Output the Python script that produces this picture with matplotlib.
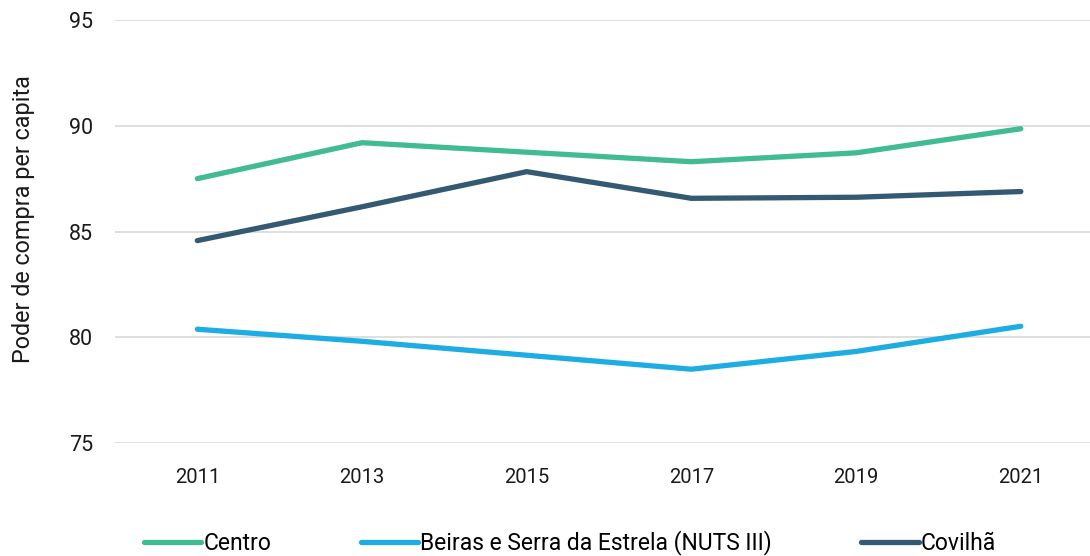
import matplotlib
matplotlib.use("Agg")
import matplotlib.pyplot as plt

plt.rcParams["font.family"] = ["Roboto", "DejaVu Sans"]

years = ["2011", "2013", "2015", "2017", "2019", "2021"]
centro = [87.5, 89.2, 88.75, 88.3, 88.72, 89.86]
beiras = [80.38, 79.81, 79.15, 78.49, 79.33, 80.52]
covilha = [84.57, 86.17, 87.83, 86.57, 86.62, 86.89]

fig = plt.figure(figsize=(10.9, 5.56), dpi=100)
ax = fig.add_axes([0.1055, 0.2032, 0.8945, 0.7608])

x = range(len(years))
ax.plot(x, centro, color="#41bb94", lw=3.8, solid_capstyle="round", label="Centro")
ax.plot(x, beiras, color="#1dade3", lw=3.8, solid_capstyle="round",
        label="Beiras e Serra da Estrela (NUTS III)")
ax.plot(x, covilha, color="#335a72", lw=3.8, solid_capstyle="round", label="Covilhã")

ax.set_ylim(75, 95)
ax.set_yticks([75, 80, 85, 90, 95])
ax.set_xlim(-0.5, 5.42)
ax.set_xticks(list(x))
ax.set_xticklabels(years)
ax.grid(axis="y", color="#d9d9d9", lw=1.2)
ax.set_axisbelow(True)
for s in ax.spines.values():
    s.set_visible(False)
ax.tick_params(length=0, labelsize=14.5, colors="#1a1a1a")
ax.tick_params(axis="x", pad=18)
ax.tick_params(axis="y", labelsize=15.5, pad=16)
ax.set_ylabel("Poder de compra per capita", fontsize=16.8, color="#1a1a1a")
ax.yaxis.set_label_coords(-0.082, 0.53)

fig.legend(loc="center", bbox_to_anchor=(0.523, 0.024), ncol=3, frameon=False,
           fontsize=16.5, handlelength=2.5, handletextpad=0.1, columnspacing=3.9)

fig.savefig("out.png", dpi=100)
